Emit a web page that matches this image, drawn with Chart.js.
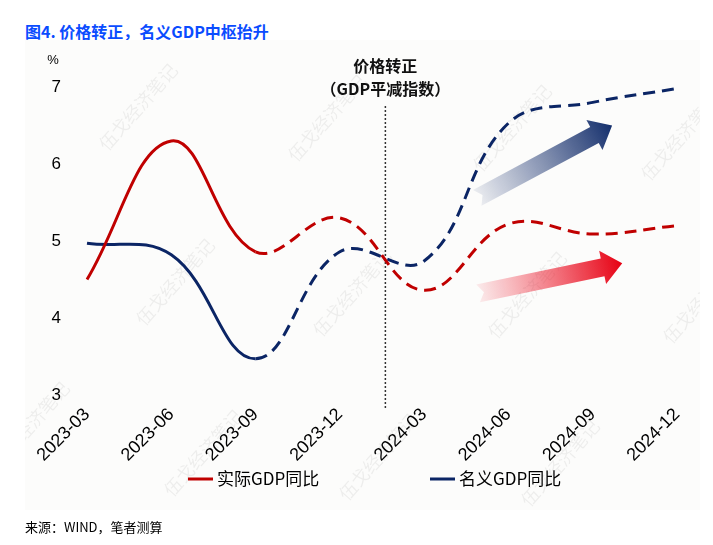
<html>
  <head>
    <title>GDP_chart</title>
    <style>
      body {
        margin: 0;
        background: #ffffff;
        font-family: "Noto Sans CJK SC", "Liberation Sans", sans-serif;
      }
      .title {
        position: absolute;
        left: 25px;
        top: 19px;
        font-size: 16px;
        font-weight: bold;
        color: #0a4cff;
        white-space: nowrap;
      }
      .panel {
        position: absolute;
        left: 25px;
        top: 40px;
        width: 675px;
        height: 470px;
        background: #fcfcfb;
      }
      .source {
        position: absolute;
        left: 25px;
        top: 517px;
        font-size: 13px;
        color: #000;
        white-space: nowrap;
      }
      .chart-container {
        position: absolute;
        left: 0;
        top: 0;
        width: 713px;
        height: 545px;
      }
    </style>
    <script src="https://cdn.jsdelivr.net/npm/chart.js"></script>
  </head>

  <body>
    <div class="title">图4. 价格转正，名义GDP中枢抬升</div>
    <div class="panel"></div>
    <div class="chart-container">
      <canvas id="gdpChart"></canvas>
    </div>
    <div class="source">来源：WIND，笔者测算</div>

    <script>
      // data
      let quarters = ["2023-03", "2023-06", "2023-09", "2023-12", "2024-03", "2024-06", "2024-09", "2024-12"];
      let realGdp = [4.5, 6.3, 4.86, 5.3, 4.36, 5.22, 5.09, 5.2];
      let nominalGdp = [4.97, 4.82, 3.47, 4.86, 4.74, 6.53, 6.8, 6.98];
      let seriesNames = ["实际GDP同比", "名义GDP同比"];
      let solidUntil = 2; // index of 2023-09, dashed after this
      let dividerAt = 3.54; // between 2023-12 and 2024-03
      let dividerText = ["价格转正", "（GDP平减指数）"];

      const RED = "#c00000";
      const BLUE = "#0b2565";

      // arrows in (category index, value) units
      let arrows = [
        { from: [4.63, 5.56], to: [6.23, 6.5], c0: "rgba(40,62,120,0.08)", c1: "#142f6c" },
        { from: [4.64, 4.32], to: [6.35, 4.71], c0: "rgba(240,30,50,0.08)", c1: "#e60012" }
      ];

      // faint watermark spots
      let marks = [
        [138, 107], [327, 118], [512, 128], [680, 137],
        [175, 282], [352, 293], [527, 295], [702, 300],
        [30, 425], [203, 453], [378, 457], [560, 463]
      ];

      function drawArrow(ctx, x0, y0, x1, y1, c0, c1) {
        let dx = x1 - x0, dy = y1 - y0;
        let len = Math.sqrt(dx * dx + dy * dy);
        let ux = dx / len, uy = dy / len;
        let nx = -uy, ny = ux;
        let shaft = 9, head = 17, headL = 20, notch = 6;
        let bx = x1 - ux * headL, by = y1 - uy * headL;
        let g = ctx.createLinearGradient(x0, y0, x1, y1);
        g.addColorStop(0, c0);
        g.addColorStop(1, c1);
        ctx.beginPath();
        ctx.moveTo(x0 + nx * shaft, y0 + ny * shaft);
        ctx.lineTo(bx + nx * shaft, by + ny * shaft);
        ctx.lineTo(bx + nx * head, by + ny * head);
        ctx.lineTo(x1, y1);
        ctx.lineTo(bx - nx * head, by - ny * head);
        ctx.lineTo(bx - nx * shaft, by - ny * shaft);
        ctx.lineTo(x0 - nx * shaft, y0 - ny * shaft);
        ctx.lineTo(x0 + ux * notch, y0 + uy * notch);
        ctx.closePath();
        ctx.fillStyle = g;
        ctx.fill();
      }

      const extras = {
        id: "extras",
        beforeDatasetsDraw(chart) {
          const ctx = chart.ctx;
          ctx.save();
          ctx.beginPath();
          ctx.rect(25, 40, 675, 470);
          ctx.clip();
          ctx.fillStyle = "rgba(0,0,0,0.06)";
          ctx.font = "18px 'Noto Sans CJK SC'";
          ctx.textAlign = "center";
          ctx.textBaseline = "middle";
          marks.forEach((m) => {
            ctx.save();
            ctx.translate(m[0], m[1]);
            ctx.rotate(-Math.PI * 0.27);
            ctx.fillText("伍戈经济笔记", 0, 0);
            ctx.restore();
          });
          ctx.restore();

          const xs = chart.scales.x, ys = chart.scales.y;
          // divider
          let dx = xs.getPixelForValue(dividerAt);
          ctx.save();
          ctx.strokeStyle = "#333";
          ctx.lineWidth = 1.5;
          ctx.setLineDash([2, 2]);
          ctx.beginPath();
          ctx.moveTo(dx, 106);
          ctx.lineTo(dx, 408);
          ctx.stroke();
          ctx.restore();

          ctx.save();
          ctx.fillStyle = "#111";
          ctx.font = "bold 16px 'Noto Sans CJK SC'";
          ctx.textAlign = "center";
          ctx.textBaseline = "middle";
          ctx.fillText(dividerText[0], dx, 66);
          ctx.fillText(dividerText[1], dx, 89);
          ctx.restore();

          arrows.forEach((a) => {
            drawArrow(
              ctx,
              xs.getPixelForValue(a.from[0]), ys.getPixelForValue(a.from[1]),
              xs.getPixelForValue(a.to[0]), ys.getPixelForValue(a.to[1]),
              a.c0, a.c1
            );
          });
        },
        afterDraw(chart) {
          const ctx = chart.ctx;
          ctx.save();
          // % unit
          ctx.fillStyle = "#000";
          ctx.font = "13px 'Liberation Sans'";
          ctx.textAlign = "center";
          ctx.textBaseline = "middle";
          ctx.fillText("%", 53, 60);
          // legend
          let lx = [188, 430];
          ctx.font = "17px 'Noto Sans CJK SC'";
          ctx.textAlign = "left";
          chart.data.datasets.forEach((ds, i) => {
            ctx.strokeStyle = ds.borderColor;
            ctx.lineWidth = 3;
            ctx.beginPath();
            ctx.moveTo(lx[i], 479);
            ctx.lineTo(lx[i] + 25, 479);
            ctx.stroke();
            ctx.fillStyle = "#000";
            ctx.fillText(ds.label, lx[i] + 29, 479);
          });
          ctx.restore();
        }
      };

      const dashAfter = (ctx) => (ctx.p0DataIndex >= solidUntil ? [12, 7] : undefined);

      new Chart(document.getElementById("gdpChart"), {
        type: "line",
        data: {
          labels: quarters,
          datasets: [
            {
              label: seriesNames[0],
              data: realGdp,
              borderColor: RED,
              borderWidth: 3,
              pointRadius: 0,
              tension: 0.4,
              segment: { borderDash: dashAfter }
            },
            {
              label: seriesNames[1],
              data: nominalGdp,
              borderColor: BLUE,
              borderWidth: 3,
              pointRadius: 0,
              tension: 0.4,
              segment: { borderDash: dashAfter }
            }
          ]
        },
        options: {
          responsive: true,
          maintainAspectRatio: false,
          animation: false,
          layout: { padding: { left: 25, top: 87, right: 36, bottom: 50 } },
          plugins: { legend: { display: false }, tooltip: { enabled: false } },
          scales: {
            x: {
              offset: false,
              grid: { display: false },
              border: { display: false },
              ticks: {
                autoSkip: false,
                maxRotation: 45,
                minRotation: 45,
                padding: 1,
                color: "#000",
                font: { family: "Liberation Sans", size: 18 }
              },
              afterFit: (scale) => { scale.height = 100; }
            },
            y: {
              min: 3,
              max: 7,
              grid: { display: false },
              border: { display: false },
              ticks: {
                stepSize: 1,
                padding: 18,
                color: "#000",
                font: { family: "Liberation Sans", size: 17 }
              },
              afterFit: (scale) => { scale.width = 62; }
            }
          }
        },
        plugins: [extras]
      });
    </script>
  </body>
</html>
